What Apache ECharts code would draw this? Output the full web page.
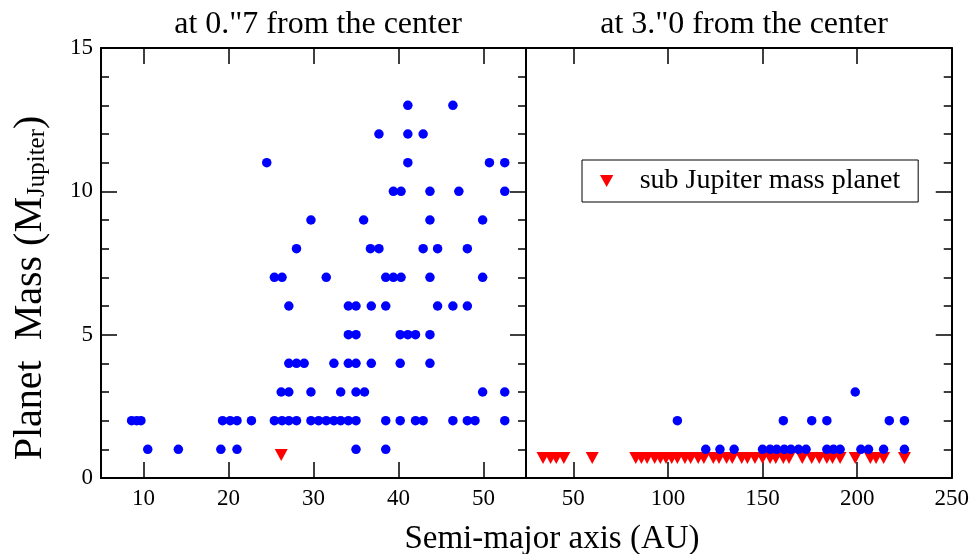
<!DOCTYPE html>
<html>
<head>
<meta charset="utf-8">
<script src="https://cdn.jsdelivr.net/npm/echarts@6/dist/echarts.min.js"></script>
<style>html,body{margin:0;padding:0;background:#fff}#c{width:972px;height:554px}</style>
</head>
<body>
<div id="c"></div>
<script>
// ---- data ----
// inner region (0."7): semi-major axis values grouped by planet mass (M_Jupiter)
var innerMassLevels = [13, 12, 11, 10, 9, 8, 7, 6, 5, 4, 3, 2, 1];
var innerAxisByMass = [
  [41.1, 46.4],
  [37.7, 41.1, 42.9],
  [24.5, 41.1, 50.7, 52.5],
  [39.4, 40.3, 43.7, 47.1, 52.5],
  [29.7, 35.9, 43.7, 49.9],
  [28.0, 36.7, 37.7, 42.9, 44.6, 48.1],
  [25.4, 26.3, 31.5, 38.5, 39.4, 40.3, 43.7, 49.9],
  [27.1, 34.1, 35.0, 36.8, 38.5, 44.6, 46.4, 48.1],
  [34.1, 35.0, 40.2, 41.1, 42.0, 43.7],
  [27.1, 28.0, 28.9, 32.4, 34.1, 35.0, 36.8, 40.2, 43.7],
  [26.2, 27.1, 29.7, 33.2, 35.0, 36.0, 49.9, 52.5],
  [8.6, 9.2, 9.7, 19.3, 20.2, 21.0, 22.7, 25.4, 26.3, 27.1, 28.0, 29.7, 30.6, 31.5, 32.4, 33.2, 34.1, 35.0, 38.5, 40.2, 42.0, 42.9, 46.4, 48.1, 49.0, 52.5],
  [10.5, 14.1, 19.1, 21.0, 35.0, 38.5]
];
var innerSubAxis = [26.2];
var innerSubMass = [0.8];

// outer region (3."0)
var outerMassLevels = [3, 2, 1];
var outerAxisByMass = [
  [199],
  [105, 161, 176, 184, 217, 225],
  [120, 127.5, 135, 150, 154, 157.5, 161.5, 165, 169, 173, 184, 187.5, 191, 202, 206, 214, 225]
];
var outerSubAxis = [34, 38, 41, 45, 60, 83, 86, 89, 93, 96, 99, 102, 105, 109, 112, 116, 119, 124, 127, 131, 134, 139, 142, 146, 150, 154, 157, 161, 164, 171, 176, 180, 184, 187, 191, 199, 207, 210, 214, 225];
var outerSubMass = outerSubAxis.map(function () { return 0.7; });

// tick / axis settings
var innerXRange = [5, 55];
var outerXRange = [25, 250];
var massRange = [0, 15];

var titles = ['at 0."7 from the center', 'at 3."0 from the center'];
var xName = 'Semi-major axis (AU)';
var subName = 'sub Jupiter mass planet';

// ---- build ----
function pairs(levels, byMass) {
  var out = [];
  levels.forEach(function (m, i) { byMass[i].forEach(function (a) { out.push([a, m]); }); });
  return out;
}
function zip(xs, ys) { return xs.map(function (x, i) { return [x, ys[i]]; }); }

var FONT = 'Liberation Serif';
var tri = 'path://M0,0 L10,0 L5,9 Z';

function xAx(grid, range, step, pos, labels) {
  return {
    type: 'value', gridIndex: grid, min: range[0], max: range[1], position: pos,
    splitNumber: 5,
    axisLine: { show: true, onZero: false, lineStyle: { color: '#000', width: 2 } },
    axisTick: { show: true, inside: true, length: 16, lineStyle: { color: '#000', width: 1.5 } },
    axisLabel: {
      show: labels, color: '#000', fontFamily: FONT, fontSize: 23, margin: 9,
      showMinLabel: true, showMaxLabel: true, hideOverlap: false,
      formatter: function (v) { return (Math.abs(v % step) < 1e-9) ? String(v) : ''; }
    },
    splitLine: { show: false }
  };
}
function yAx(grid, pos, labels, ticks) {
  return {
    type: 'value', gridIndex: grid, min: massRange[0], max: massRange[1], interval: 5, position: pos,
    axisLine: { show: true, onZero: false, lineStyle: { color: '#000', width: 2 } },
    axisTick: { show: ticks, inside: true, length: 16, lineStyle: { color: '#000', width: 1.5 } },
    minorTick: { show: ticks, splitNumber: 5, length: 8, lineStyle: { color: '#000', width: 1.5 } },
    axisLabel: { show: labels, color: '#000', fontFamily: FONT, fontSize: 23, margin: 8 },
    splitLine: { show: false }
  };
}

var chart = echarts.init(document.getElementById('c'), null, { renderer: 'canvas' });
chart.setOption({
  animation: false,
  backgroundColor: '#fff',
  title: [
    { text: titles[0], left: 313, top: 4, textAlign: 'center', textStyle: { fontFamily: FONT, fontSize: 32, fontWeight: 'normal', color: '#000' } },
    { text: titles[1], left: 739, top: 4, textAlign: 'center', textStyle: { fontFamily: FONT, fontSize: 32, fontWeight: 'normal', color: '#000' } },
    { text: xName, left: 547, top: 518, textAlign: 'center', textStyle: { fontFamily: FONT, fontSize: 33, fontWeight: 'normal', color: '#000' } }
  ],
  graphic: [{
    type: 'text', x: 30, y: 288, rotation: Math.PI / 2,
    style: {
      text: '{a|Planet  Mass (M}{s|Jupiter}{a|)}',
      align: 'center', verticalAlign: 'middle',
      rich: {
        a: { fontFamily: FONT, fontSize: 40, lineHeight: 40, fill: '#000', verticalAlign: 'bottom' },
        s: { fontFamily: FONT, fontSize: 25, lineHeight: 15, fill: '#000', verticalAlign: 'bottom' }
      }
    }
  }],
  legend: {
    data: [subName], left: 582, top: 160,
    borderColor: '#000', borderWidth: 1, borderRadius: 0,
    padding: [7, 18, 7, 18], itemWidth: 14, itemHeight: 12,
    textStyle: { fontFamily: FONT, fontSize: 28, color: '#000', padding: [0, 0, 0, 21] }
  },
  grid: [
    { left: 101, top: 48, width: 425, height: 430 },
    { left: 526, top: 48, width: 426, height: 430 }
  ],
  xAxis: [
    xAx(0, innerXRange, 10, 'bottom', true),
    xAx(0, innerXRange, 10, 'top', false),
    xAx(1, outerXRange, 50, 'bottom', true),
    xAx(1, outerXRange, 50, 'top', false)
  ],
  yAxis: [
    yAx(0, 'left', true, true),
    yAx(0, 'right', false, true),
    yAx(1, 'left', false, false),
    yAx(1, 'right', false, true)
  ],
  series: [
    { name: 'inner', type: 'scatter', xAxisIndex: 0, yAxisIndex: 0, symbol: 'circle', symbolSize: 9.5,
      itemStyle: { color: '#0000ff', opacity: 1 }, data: pairs(innerMassLevels, innerAxisByMass) },
    { name: subName, type: 'scatter', xAxisIndex: 0, yAxisIndex: 0, symbol: tri, symbolSize: [13, 12],
      itemStyle: { color: '#ff0000', opacity: 1 }, data: zip(innerSubAxis, innerSubMass) },
    { name: subName, type: 'scatter', xAxisIndex: 2, yAxisIndex: 2, symbol: tri, symbolSize: [13, 12],
      itemStyle: { color: '#ff0000', opacity: 1 }, data: zip(outerSubAxis, outerSubMass), z: 2 },
    { name: 'outer', type: 'scatter', xAxisIndex: 2, yAxisIndex: 2, symbol: 'circle', symbolSize: 9.5,
      itemStyle: { color: '#0000ff', opacity: 1 }, data: pairs(outerMassLevels, outerAxisByMass), z: 3 }
  ]
});
</script>
</body>
</html>
